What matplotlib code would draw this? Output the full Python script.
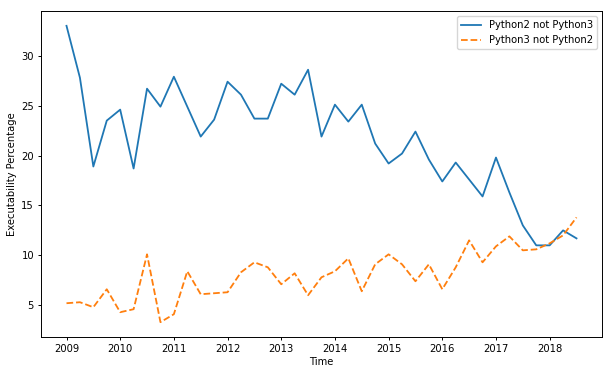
import numpy as np
import matplotlib.pyplot as plt

# quarterly time points, 2009 to mid-2018
time = np.arange(2009, 2018.51, 0.25)

py2_not_py3 = [33.0, 27.8, 18.9, 23.5, 24.6, 18.7, 26.7, 24.9, 27.9, 24.9,
               21.9, 23.6, 27.4, 26.1, 23.7, 23.7, 27.2, 26.1, 28.6, 21.9,
               25.1, 23.4, 25.1, 21.2, 19.2, 20.2, 22.4, 19.6, 17.4, 19.3,
               17.6, 15.9, 19.8, 16.3, 13.0, 11.0, 11.0, 12.5, 11.7]
py3_not_py2 = [5.2, 5.3, 4.8, 6.6, 4.3, 4.6, 10.1, 3.3, 4.1, 8.4,
               6.1, 6.2, 6.3, 8.3, 9.3, 8.8, 7.1, 8.2, 6.0, 7.8,
               8.4, 9.7, 6.4, 9.1, 10.1, 9.1, 7.4, 9.1, 6.6, 8.8,
               11.5, 9.3, 10.9, 11.9, 10.5, 10.6, 11.2, 12.0, 13.8]
years = list(range(2009, 2019))

fig = plt.figure(figsize=(6.09, 3.75), dpi=100)
ax = fig.add_axes([41/609, 38/375, 561/609, 326/375])
ax.plot(time, py2_not_py3, lw=1.3, label='Python2 not Python3')
ax.plot(time, py3_not_py2, '--', lw=1.3, label='Python3 not Python2')
ax.set_xticks(years)
ax.set_xticklabels([str(y) for y in years])
ax.tick_params(labelsize=7.2, length=2.5, width=0.7, pad=2.5)
for s in ax.spines.values():
    s.set_linewidth(0.7)
ax.set_xlabel('Time', fontsize=7.2, labelpad=2)
ax.set_ylabel('Executability Percentage', fontsize=7.2, labelpad=3)
ax.legend(fontsize=7.2)
fig.savefig('out.png', dpi=100)
